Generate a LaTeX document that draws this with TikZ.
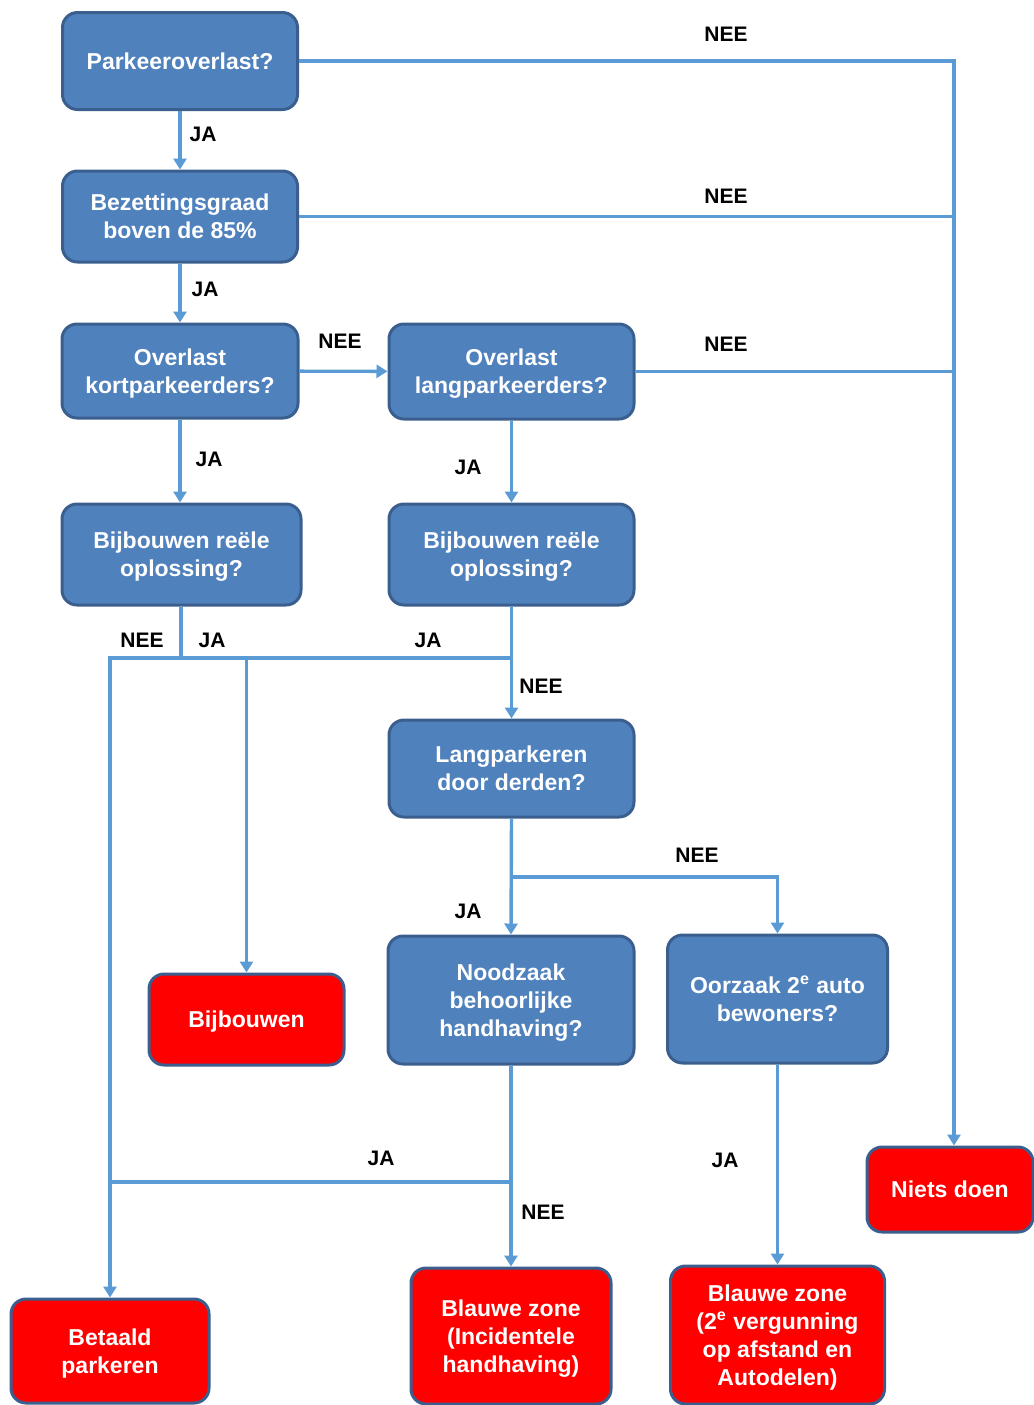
\documentclass[tikz,border=0pt]{standalone}
\usepackage{fontspec}
\setmainfont{Liberation Sans}
\usetikzlibrary{arrows.meta}
\definecolor{boxblue}{HTML}{4F81BD}
\definecolor{boxedge}{HTML}{3A5F8E}
\definecolor{linkblue}{HTML}{5B9BD5}
\definecolor{boxred}{HTML}{FF0000}
\begin{document}
\begin{tikzpicture}[x=0.5pt,y=-0.5pt,
  box/.style={rounded corners=7.5pt, draw=boxedge, line width=1.5pt, text=white,
    font=\bfseries\fontsize{11.5}{14}\selectfont, align=center, inner sep=0pt, text depth=0pt},
  qbox/.style={box, fill=boxblue},
  abox/.style={box, fill=boxred},
  conn/.style={draw=linkblue, line width=1.7pt},
  arr/.style={conn, -{Triangle[length=5.5pt,width=6.5pt]}},
  lbl/.style={font=\bfseries\fontsize{10.5}{12}\selectfont, text=black, inner sep=0pt}]
\useasboundingbox (0,0) rectangle (1034,1405);

% decision boxes
\node[qbox, minimum width=117.5pt, minimum height=48.5pt] (n1) at (180,61) {Parkeeroverlast?};
\node[qbox, minimum width=117.5pt, minimum height=45.5pt] (n2) at (180,216.5) {Bezettingsgraad\\boven de 85\%};
\node[qbox, minimum width=118pt, minimum height=47pt] (n3) at (180,371) {Overlast\\kortparkeerders?};
\node[qbox, minimum width=122.5pt, minimum height=47.5pt] (n4) at (511.5,371.5) {Overlast\\langparkeerders?};
\node[qbox, minimum width=119.5pt, minimum height=50.5pt] (n5) at (181.5,554.5) {Bijbouwen reële\\oplossing?};
\node[qbox, minimum width=122.5pt, minimum height=50.5pt] (n6) at (511.5,554.5) {Bijbouwen reële\\oplossing?};
\node[qbox, minimum width=122.5pt, minimum height=48.5pt] (n7) at (511.5,768.5) {Langparkeren\\door derden?};
\node[qbox, minimum width=123pt, minimum height=64pt] (n8) at (511,1000) {Noodzaak\\behoorlijke\\handhaving?};
\node[qbox, minimum width=110pt, minimum height=64pt] (n9) at (777.5,999) {Oorzaak 2\textsuperscript{e} auto\\bewoners?};

% outcome boxes
\node[abox, minimum width=97.5pt, minimum height=45.5pt] (r1) at (246.5,1019.5) {Bijbouwen};
\node[abox, minimum width=83pt, minimum height=42.5pt] (r2) at (950,1189.5) {Niets doen};
\node[abox, minimum width=99pt, minimum height=52pt] (r3) at (110,1351) {Betaald\\parkeren};
\node[abox, minimum width=100pt, minimum height=68pt] (r4) at (511,1336) {Blauwe zone\\(Incidentele\\handhaving)};
\node[abox, minimum width=107pt, minimum height=69pt] (r5) at (777.5,1335) {Blauwe zone\\(2\textsuperscript{e} vergunning\\op afstand en\\Autodelen)};

% junction points
\coordinate (jr) at (954,61);
\coordinate (ja) at (181,658);
\coordinate (jl) at (110,658);
\coordinate (jb) at (246.5,658);
\coordinate (jc) at (511.5,658);
\coordinate (jd) at (511.5,877);
\coordinate (je) at (777.5,877);
\coordinate (jf) at (511,1182);
\coordinate (jg) at (110,1182);

% NEE lines to the right
\draw[arr] (n1.east) -- (jr) -- (jr |- r2.north);
\draw[conn] (n2.east) -- (n2.east -| jr);
\draw[conn] (n4.east) -- (n4.east -| jr);

% main flow
\draw[arr] (n1) -- (n2);
\draw[arr] (n2) -- (n3);
\draw[arr] (n3) -- (n4);
\draw[arr] (n3.south) -- (n3.south |- n5.north);
\draw[arr] (n4) -- (n6);
\draw[conn] (n5.south -| ja) -- (ja);
\draw[arr] (jc) -- (jl) -- (r3.north -| jl);
\draw[arr] (jb) -- (r1.north);
\draw[arr] (n6.south) -- (n7.north);
\draw[arr] (n7.south) -- (n8.north);
\draw[arr] (jd) -- (je) -- (n9.north);
\draw[arr] (n8.south) -- (r4.north);
\draw[conn] (jf) -- (jg);
\draw[arr] (n9.south) -- (r5.north);

% labels
\node[lbl] (l1) at (726,34) {NEE};
\node[lbl] (l2) at (726,196) {NEE};
\node[lbl] (l3) at (726,344) {NEE};
\node[lbl] (l4) at (203,134) {JA};
\node[lbl] (l5) at (205,289) {JA};
\node[lbl] (l6) at (340,341) {NEE};
\node[lbl] (l7) at (209,459) {JA};
\node[lbl] (l8) at (468,467) {JA};
\node[lbl] (l9) at (142,640) {NEE};
\node[lbl] (l10) at (212,640) {JA};
\node[lbl] (l11) at (428,640) {JA};
\node[lbl] (l12) at (541,686) {NEE};
\node[lbl] (l13) at (697,855) {NEE};
\node[lbl] (l14) at (468,911) {JA};
\node[lbl] (l15) at (381,1158) {JA};
\node[lbl] (l16) at (543,1212) {NEE};
\node[lbl] (l17) at (725,1160) {JA};
\end{tikzpicture}
\end{document}
